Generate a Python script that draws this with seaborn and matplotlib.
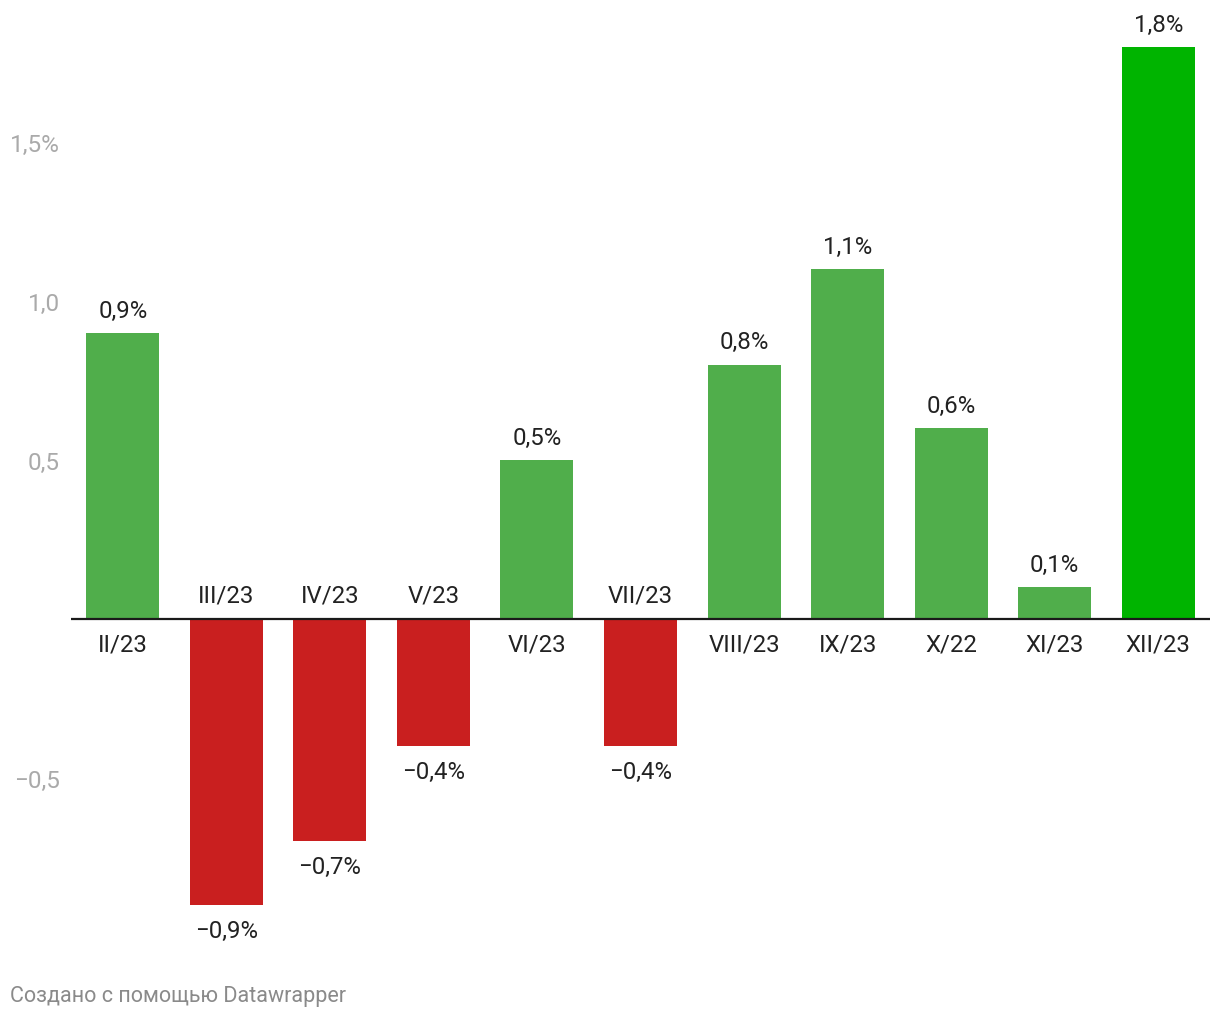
import matplotlib
matplotlib.use("Agg")
import matplotlib.pyplot as plt
import seaborn as sns
import pandas as pd

categories = ["II/23", "III/23", "IV/23", "V/23", "VI/23", "VII/23",
              "VIII/23", "IX/23", "X/22", "XI/23", "XII/23"]
values = [0.9, -0.9, -0.7, -0.4, 0.5, -0.4, 0.8, 1.1, 0.6, 0.1, 1.8]
value_labels = ["0,9%", "−0,9%", "−0,7%", "−0,4%", "0,5%", "−0,4%",
                "0,8%", "1,1%", "0,6%", "0,1%", "1,8%"]
ytick_values = [-0.5, 0.5, 1.0, 1.5]
ytick_labels = ["−0,5", "0,5", "1,0", "1,5%"]
footer = "Создано с помощью Datawrapper"

GREEN = "#50AE4B"
BRIGHT = "#00B400"
RED = "#C91F1F"
colors = [BRIGHT if i == len(values) - 1 else (GREEN if v >= 0 else RED)
          for i, v in enumerate(values)]

sns.set_theme(style="white")
plt.rcParams["font.family"] = ["Roboto", "DejaVu Sans"]

df = pd.DataFrame({"cat": categories, "val": values})

fig = plt.figure(figsize=(12.2, 10.2), dpi=100)
ax = fig.add_axes([71 / 1220, 60 / 1020, (1210 - 71) / 1220, 940 / 1020])

sns.barplot(data=df, x="cat", y="val", hue="cat", palette=colors,
            legend=False, width=0.705, saturation=1, linewidth=0, ax=ax)

ax.set_xlim(-0.5, 10.5)
ax.set_ylim(-1.0699, 1.888)
ax.axhline(0, color="#1a1a1a", lw=1.6, zorder=5)

for s in ax.spines.values():
    s.set_visible(False)
ax.set_xticks([])
ax.set_xlabel("")
ax.set_ylabel("")
ax.set_yticks(ytick_values)
ax.set_yticklabels(ytick_labels, color="#AAAAAA", fontsize=17.5)
ax.tick_params(axis="y", length=0, pad=8)

FS = 17.3
for i, (v, lab, cat) in enumerate(zip(values, value_labels, categories)):
    if v >= 0:
        ax.annotate(lab, (i, v), xytext=(0, 16.5), textcoords="offset points",
                    ha="center", va="center", fontsize=FS, color="#222222")
        ax.annotate(cat, (i, 0), xytext=(0, -18), textcoords="offset points",
                    ha="center", va="center", fontsize=FS, color="#222222")
    else:
        ax.annotate(lab, (i, v), xytext=(0, -18), textcoords="offset points",
                    ha="center", va="center", fontsize=FS, color="#222222")
        ax.annotate(cat, (i, 0), xytext=(0, 17), textcoords="offset points",
                    ha="center", va="center", fontsize=FS, color="#222222")

fig.text(10 / 1220, 1 - 997 / 1020, footer, ha="left", va="center",
         fontsize=15.5, color="#8A8A8A")

fig.savefig("out.png", dpi=100, facecolor="white")
